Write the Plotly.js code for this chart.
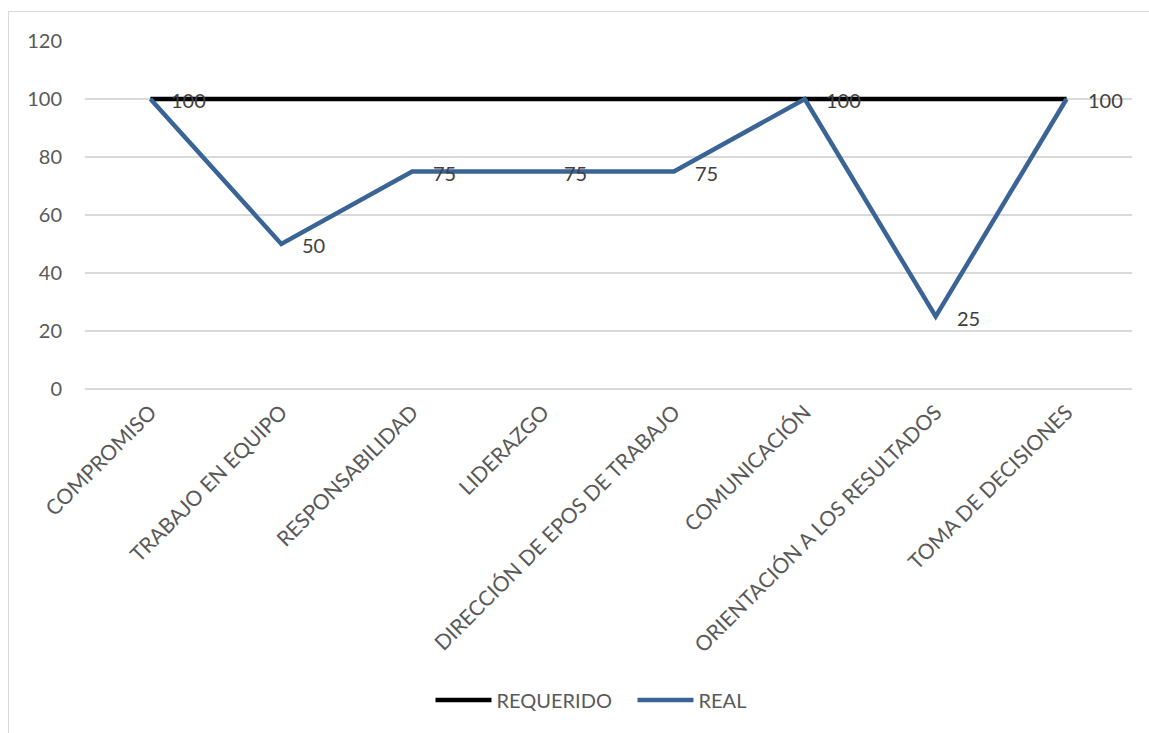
<!DOCTYPE html>
<html>
<head>
<meta charset="utf-8">
<script src="https://cdn.plot.ly/plotly-3.0.1.min.js"></script>
<style>
  html, body { margin: 0; padding: 0; background: #fff; }
  #frame { position: absolute; left: 8px; top: 11px; width: 1200px; height: 800px;
           border-left: 1.5px solid #d9d9d9; border-top: 1.5px solid #d9d9d9; pointer-events: none; }
  #chart { position: absolute; left: 0; top: 0; width: 1149px; height: 733px; }
</style>
</head>
<body>
<div id="chart"></div>
<div id="frame"></div>
<script>
const categories = ["COMPROMISO", "TRABAJO EN EQUIPO", "RESPONSABILIDAD", "LIDERAZGO",
  "DIRECCIÓN DE EPOS DE TRABAJO", "COMUNICACIÓN", "ORIENTACIÓN A LOS RESULTADOS", "TOMA DE DECISIONES"];
const requerido = [100, 100, 100, 100, 100, 100, 100, 100];
const real = [100, 50, 75, 75, 75, 100, 25, 100];
const yTicks = [0, 20, 40, 60, 80, 100, 120];

const FONT = "Lato, 'Open Sans', sans-serif";

const traces = [
  { x: categories, y: requerido, type: "scatter", mode: "lines", name: "REQUERIDO",
    line: { color: "#000000", width: 4.5 }, hoverinfo: "skip" },
  { x: categories, y: real, type: "scatter", mode: "lines", name: "REAL",
    line: { color: "#3A6396", width: 4.5 }, hoverinfo: "skip" }
];

const annotations = categories.map((c, i) => ({
  x: c, y: real[i], xref: "x", yref: "y", text: String(real[i]), showarrow: false,
  xanchor: "left", yanchor: "middle", xshift: 19, yshift: -1,
  font: { family: FONT, size: 20, color: "#404040" }
}));

const layout = {
  width: 1149, height: 733,
  margin: { l: 85, r: 17, t: 41, b: 344, pad: 0 },
  paper_bgcolor: "#ffffff", plot_bgcolor: "#ffffff",
  font: { family: FONT, size: 20, color: "#595959" },
  showlegend: true,
  legend: { orientation: "h", x: 0.33, xanchor: "left", y: -0.894, yanchor: "middle",
            font: { family: FONT, size: 20, color: "#595959" }, itemwidth: 56,
            entrywidth: 131, entrywidthmode: "pixels", traceorder: "normal" },
  xaxis: { type: "category", range: [-0.5, 7.5], tickangle: -45, showgrid: false, zeroline: false,
           showline: false, ticks: "", ticklabelstandoff: 6,
           tickfont: { family: FONT, size: 21, color: "#595959" } },
  yaxis: { range: [0, 120], tickvals: yTicks, ticktext: yTicks.map(String), showgrid: true,
           gridcolor: "#d9d9d9", gridwidth: 1.3, zeroline: true, zerolinecolor: "#d9d9d9", zerolinewidth: 1.3,
           showline: false, ticks: "", ticklabelstandoff: 22,
           tickfont: { family: FONT, size: 20, color: "#595959" } },
  annotations: annotations
};

Plotly.newPlot("chart", traces, layout, { displayModeBar: false, staticPlot: true });
</script>
</body>
</html>
